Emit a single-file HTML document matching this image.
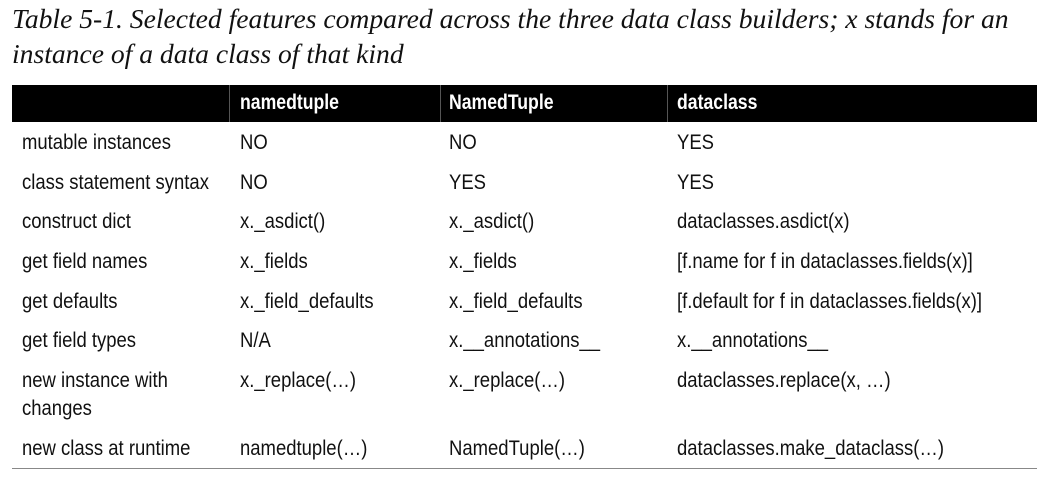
<!DOCTYPE html>
<html><head><meta charset="utf-8"><style>
body{margin:0;width:1047px;height:485px;background:#fff;position:relative;overflow:hidden;font-family:"Liberation Sans",sans-serif;color:#111}
.cap{position:absolute;left:12px;font-family:"Liberation Serif",serif;font-style:italic;font-size:27.6px;white-space:nowrap}
.hdr{position:absolute;left:12px;top:85px;width:1025px;height:37px;background:#000}
.sep{position:absolute;top:85px;width:1px;height:37px;background:#555}
.t{position:absolute;font-size:21px;white-space:nowrap;line-height:28px;transform:scaleX(0.88);transform-origin:0 0}
.h{color:#fff;font-weight:bold;transform:scaleX(0.84)}
.bl{position:absolute;left:12px;top:468px;width:1025px;height:1px;background:#888}
</style></head><body>
<div class="cap" style="top:3px">Table 5-1. Selected features compared across the three data class builders; x stands for an</div>
<div class="cap" style="top:38px">instance of a data class of that kind</div>
<div class="hdr"></div>
<div class="sep" style="left:229px"></div>
<div class="sep" style="left:440px"></div>
<div class="sep" style="left:667px"></div>
<div class="t h" style="left:240px;top:89px">namedtuple</div>
<div class="t h" style="left:449px;top:89px">NamedTuple</div>
<div class="t h" style="left:677px;top:89px">dataclass</div>
<div id="rows"></div>
<div class="bl"></div>
<script>
const rows=[
[129,"mutable instances","NO","NO","YES"],
[169,"class statement syntax","NO","YES","YES"],
[208,"construct dict","x._asdict()","x._asdict()","dataclasses.asdict(x)"],
[248,"get field names","x._fields","x._fields","[f.name for f in dataclasses.fields(x)]"],
[288,"get defaults","x._field_defaults","x._field_defaults","[f.default for f in dataclasses.fields(x)]"],
[327,"get field types","N/A","x.__annotations__","x.__annotations__"],
[367,"new instance with<br>changes","x._replace(…)","x._replace(…)","dataclasses.replace(x, …)"],
[435,"new class at runtime","namedtuple(…)","NamedTuple(…)","dataclasses.make_dataclass(…)"]];
const xs=[22,240,449,677];
const c=document.getElementById('rows');
rows.forEach(r=>{for(let i=0;i<4;i++){const d=document.createElement('div');d.className='t';d.style.left=xs[i]+'px';d.style.top=r[0]+'px';d.innerHTML=r[i+1];


c.appendChild(d);}});
</script>
</body></html>
